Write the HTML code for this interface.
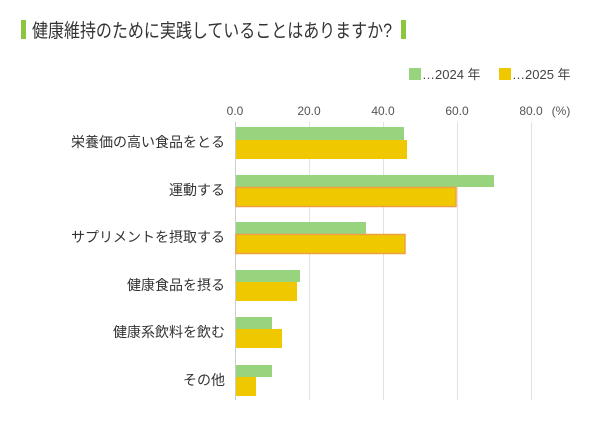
<!DOCTYPE html><html><head><meta charset="utf-8"><style>
body{margin:0;width:615px;height:420px;background:#fff;overflow:hidden;font-family:"Liberation Sans","Noto Sans CJK JP",sans-serif;}
</style></head><body>
<svg width="615" height="420" xmlns="http://www.w3.org/2000/svg" font-family="Liberation Sans, Noto Sans CJK JP, sans-serif">
<rect x="21" y="20" width="5" height="19" fill="#8cc63f"/>
<text x="32" y="37" font-size="19" fill="#333" textLength="360" lengthAdjust="spacingAndGlyphs">健康維持のために実践していることはありますか?</text>
<rect x="401" y="20" width="5" height="19" fill="#8cc63f"/>
<rect x="409" y="68" width="12" height="12" fill="#98d47e"/>
<text x="422" y="79" font-size="13" fill="#444">…2024 年</text>
<rect x="499" y="68" width="12" height="12" fill="#f0c800"/>
<text x="512" y="79" font-size="13" fill="#444">…2025 年</text>
<g font-size="12" fill="#555" text-anchor="middle">
<text x="235" y="115">0.0</text><text x="309" y="115">20.0</text><text x="383" y="115">40.0</text><text x="457" y="115">60.0</text><text x="531" y="115">80.0</text><text x="561" y="115">(%)</text>
</g>
<g stroke="#e2e2e2" stroke-width="1">
<line x1="309.5" y1="122" x2="309.5" y2="400"/><line x1="383.5" y1="122" x2="383.5" y2="400"/><line x1="457.5" y1="122" x2="457.5" y2="400"/><line x1="531.5" y1="122" x2="531.5" y2="400"/>
</g>
<line x1="235.5" y1="122" x2="235.5" y2="400" stroke="#ccc"/>
<g fill="#98d47e">
<rect x="236" y="127" width="168" height="13"/>
<rect x="236" y="175" width="258" height="12"/>
<rect x="236" y="222" width="130" height="12"/>
<rect x="236" y="270" width="64" height="12"/>
<rect x="236" y="317" width="36" height="12"/>
<rect x="236" y="365" width="36" height="12"/>
</g>
<g fill="#f0c800">
<rect x="236" y="140" width="171" height="19"/>
<rect x="236" y="187.5" width="220" height="19" stroke="#f0a040" stroke-width="1.5"/>
<rect x="236" y="234.5" width="169" height="19" stroke="#f0a040" stroke-width="1.5"/>
<rect x="236" y="282" width="61" height="19"/>
<rect x="236" y="329" width="46" height="19"/>
<rect x="236" y="377" width="20" height="19"/>
</g>
<g font-size="14" fill="#333" text-anchor="end">
<text x="225" y="147">栄養価の高い食品をとる</text>
<text x="225" y="195">運動する</text>
<text x="225" y="242">サプリメントを摂取する</text>
<text x="225" y="290">健康食品を摂る</text>
<text x="225" y="337">健康系飲料を飲む</text>
<text x="225" y="385">その他</text>
</g>
</svg>
</body></html>
